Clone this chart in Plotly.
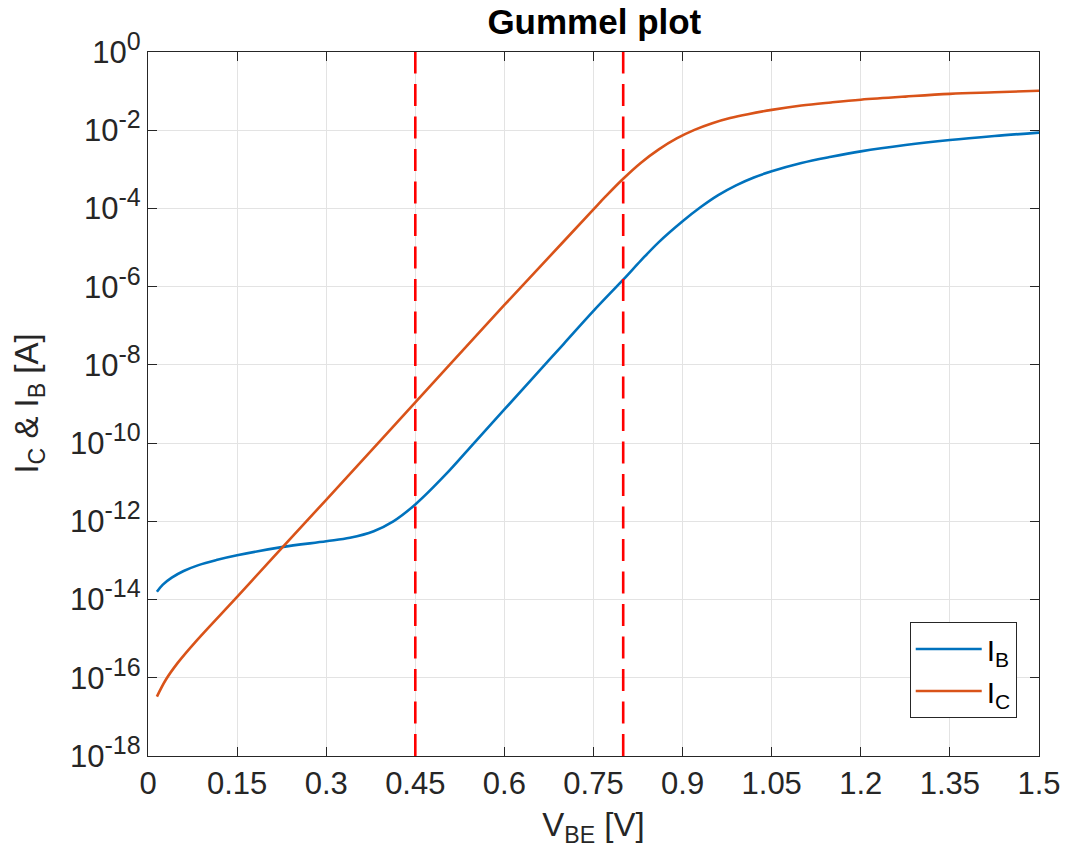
import plotly.graph_objects as go

# Base-emitter voltage samples [V] and base current [A]
vbe_ib = [0.015, 0.025, 0.04, 0.06, 0.085, 0.115, 0.15, 0.225, 0.3, 0.34, 0.38,
          0.413, 0.45, 0.5, 0.55, 0.6, 0.65, 0.7, 0.75, 0.8, 0.83, 0.86, 0.9,
          0.93, 0.96, 0.99, 1.02, 1.05, 1.1, 1.15, 1.2, 1.275, 1.35, 1.425, 1.5]
ib = [1.58e-14, 2.4e-14, 3.63e-14, 5.37e-14, 7.6e-14, 1.02e-13, 1.35e-13, 2.19e-13,
      3.09e-13, 3.8e-13, 5.6e-13, 1.0e-12, 2.7e-12, 1.51e-11, 1.05e-10, 7.24e-10,
      5.0e-9, 3.47e-8, 2.4e-7, 1.51e-6, 4.7e-6, 1.38e-5, 4.7e-5, 1.07e-4, 2.19e-4,
      3.9e-4, 6.2e-4, 8.9e-4, 1.45e-3, 2.09e-3, 2.88e-3, 4.17e-3, 5.6e-3, 7.1e-3,
      8.7e-3]

# Base-emitter voltage samples [V] and collector current [A]
vbe_ic = [0.015, 0.03, 0.05, 0.08, 0.15, 0.21, 0.3, 0.45, 0.6, 0.7, 0.75, 0.77,
          0.8, 0.83, 0.86, 0.89, 0.92, 0.95, 0.98, 1.01, 1.05, 1.1, 1.15, 1.2,
          1.275, 1.35, 1.425, 1.5]
ic = [3.3e-17, 8.9e-17, 2.4e-16, 8.3e-16, 1.17e-14, 1.17e-13, 3.55e-12, 1.1e-9,
      3.4e-7, 1.45e-5, 9.5e-5, 2.0e-4, 5.75e-4, 1.48e-3, 3.24e-3, 6.17e-3,
      1.02e-2, 1.51e-2, 2.04e-2, 2.57e-2, 3.31e-2, 4.27e-2, 5.13e-2, 6.03e-2,
      7.24e-2, 8.5e-2, 9.33e-2, 1.02e-1]

# Region boundaries marked with dashed lines [V]
boundaries = [0.45, 0.8]

x_ticks = [0, 0.15, 0.3, 0.45, 0.6, 0.75, 0.9, 1.05, 1.2, 1.35, 1.5]
x_tick_labels = ["0", "0.15", "0.3", "0.45", "0.6", "0.75", "0.9", "1.05", "1.2", "1.35", "1.5"]
y_exponents = [-18, -16, -14, -12, -10, -8, -6, -4, -2, 0]

ink = "#262626"
font = "Liberation Sans, Arial, Helvetica, sans-serif"

fig = go.Figure()
fig.add_trace(go.Scatter(
    x=vbe_ib, y=ib, mode="lines", name="I<sub>B</sub>",
    line=dict(color="#0072BD", width=2.6, shape="spline", smoothing=1.0),
))
fig.add_trace(go.Scatter(
    x=vbe_ic, y=ic, mode="lines", name="I<sub>C</sub>",
    line=dict(color="#D95319", width=2.6, shape="spline", smoothing=1.0),
))

for xb in boundaries:
    fig.add_vline(x=xb, line=dict(color="#FF0000", width=2.6, dash="22px,10.5px"))

axis_common = dict(
    showline=True, linecolor=ink, linewidth=1.2, mirror="ticks",
    ticks="inside", ticklen=9, tickwidth=1, tickcolor=ink,
    showgrid=True, gridcolor="#E3E3E3", gridwidth=1, zeroline=False,
    tickfont=dict(family=font, size=31, color=ink),
)

fig.update_xaxes(
    range=[0, 1.5], tickvals=x_ticks, ticktext=x_tick_labels,
    title=dict(text="V<sub>BE</sub> [V]", font=dict(family=font, size=33, color=ink), standoff=12),
    **axis_common,
)
fig.update_yaxes(
    type="log", range=[-18, 0],
    tickvals=[10.0 ** e for e in y_exponents],
    ticktext=[f"10<sup><span style='font-size:25px'>{e}</span></sup>" for e in y_exponents],
    **axis_common,
)

# Vertical axis label
fig.add_annotation(
    text="I<sub>C</sub> & I<sub>B</sub> [A]", textangle=-90,
    xref="paper", yref="paper", x=-0.134, y=0.5, xanchor="center", yanchor="middle",
    showarrow=False, font=dict(family=font, size=33, color=ink),
)

fig.update_layout(
    width=1073, height=849,
    margin=dict(l=148, r=31, t=52, b=93),
    paper_bgcolor="white", plot_bgcolor="white",
    title=dict(text="<b>Gummel plot</b>", x=0.5539, xanchor="center", y=0.974, yanchor="middle",
               font=dict(family=font, size=35, color="black")),
    legend=dict(
        x=0.975, y=0.054, xanchor="right", yanchor="bottom",
        bgcolor="white", bordercolor=ink, borderwidth=1,
        font=dict(family=font, size=30, color="black"),
        tracegroupgap=0, itemwidth=66,
    ),
    showlegend=True,
)

fig.write_html("out.html")
